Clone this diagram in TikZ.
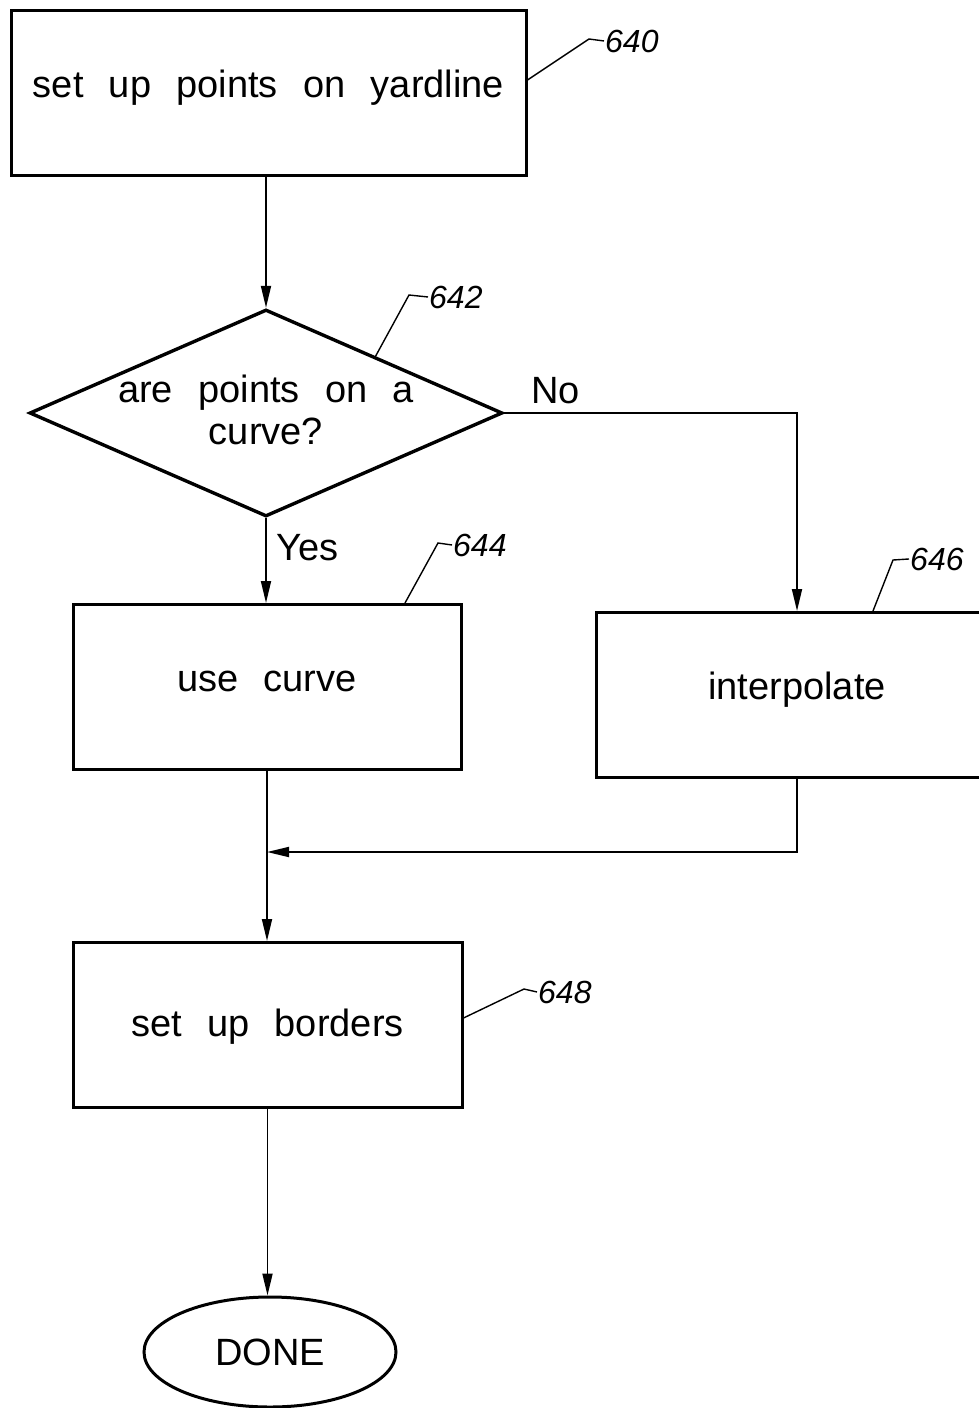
\documentclass[tikz,border=0pt]{standalone}
\usepackage{fontspec}
\setmainfont{Liberation Sans}[WordSpace=2.4]
\usetikzlibrary{shapes.geometric, arrows.meta, positioning, calc}

\begin{document}
\begin{tikzpicture}[x=1pt, y=-1pt,
	block/.style={draw, line width=3pt, minimum height=165pt, inner sep=0pt,
		text height=28pt, text depth=20pt, font=\fontsize{38pt}{42pt}\selectfont},
	decision/.style={draw, diamond, line width=3.4pt, minimum width=473pt,
		minimum height=207pt, inner sep=0pt},
	terminal/.style={draw, ellipse, line width=3pt, minimum width=252pt,
		minimum height=110pt, inner sep=0pt, font=\fontsize{38pt}{42pt}\selectfont},
	flow/.style={line width=1.8pt, -{Triangle[length=22pt, width=10pt]}},
	leader/.style={line width=1.4pt},
	refnum/.style={anchor=base west, inner sep=1pt, font=\fontsize{32pt}{32pt}\selectfont\itshape},
	answer/.style={anchor=base west, inner sep=0pt, font=\fontsize{38pt}{42pt}\selectfont}
	]
	
	\useasboundingbox (0,0) rectangle (978,1408);
	
	\node[block, minimum width=515pt] (setup) at (268.5,93) {set up points on yardline};
	\node[decision] (q) at (266,413) {};
	\node[align=center, inner sep=0pt, font=\fontsize{38pt}{42pt}\selectfont] (qtext) at (266,410)
		{are points on a\\curve?};
	\node[block, minimum width=388pt] (usecurve) at (267,687) {use curve};
	\node[block, minimum width=402pt] (interp) at (797,695) {interpolate};
	\node[block, minimum width=389pt, text depth=6pt] (borders) at (267.5,1025) {set up borders};
	\node[terminal] (done) at (270,1352) {DONE};
	\coordinate (join) at (267,852);
	
	\node[refnum] (l640) at (604,52) {640};
	\node[refnum] (l642) at (428,308) {642};
	\node[refnum] (l644) at (452,556) {644};
	\node[refnum] (l646) at (909,570) {646};
	\node[refnum] (l648) at (537,1003) {648};
	\node[answer] (yes) at (276,560) {Yes};
	\node[answer] (no) at (531,403) {No};
	
	\draw[flow] (setup.south -| q.north) -- (q.north);
	\draw[flow] (q.south) -- (q.south |- usecurve.north);
	\draw[flow] (q.east) -| (interp.north);
	\draw[flow] (usecurve.south) -- (usecurve.south |- borders.north);
	\draw[flow] (interp.south) |- (join);
	\draw[flow] (borders.south) -- (borders.south |- done.north);
	
	\draw[leader] ([yshift=13pt]setup.east) -- (589,39) -- (l640.west);
	\draw[leader] ($(q.north)!0.46!(q.east)$) -- (409,295) -- (l642.west);
	\draw[leader] ([xshift=138pt]usecurve.north) -- (438,543) -- (l644.west);
	\draw[leader] ([xshift=76pt]interp.north) -- (893,560) -- (l646.west);
	\draw[leader] ([yshift=7pt]borders.east) -- (524,989) -- (l648.west);
	
\end{tikzpicture}
\end{document}
